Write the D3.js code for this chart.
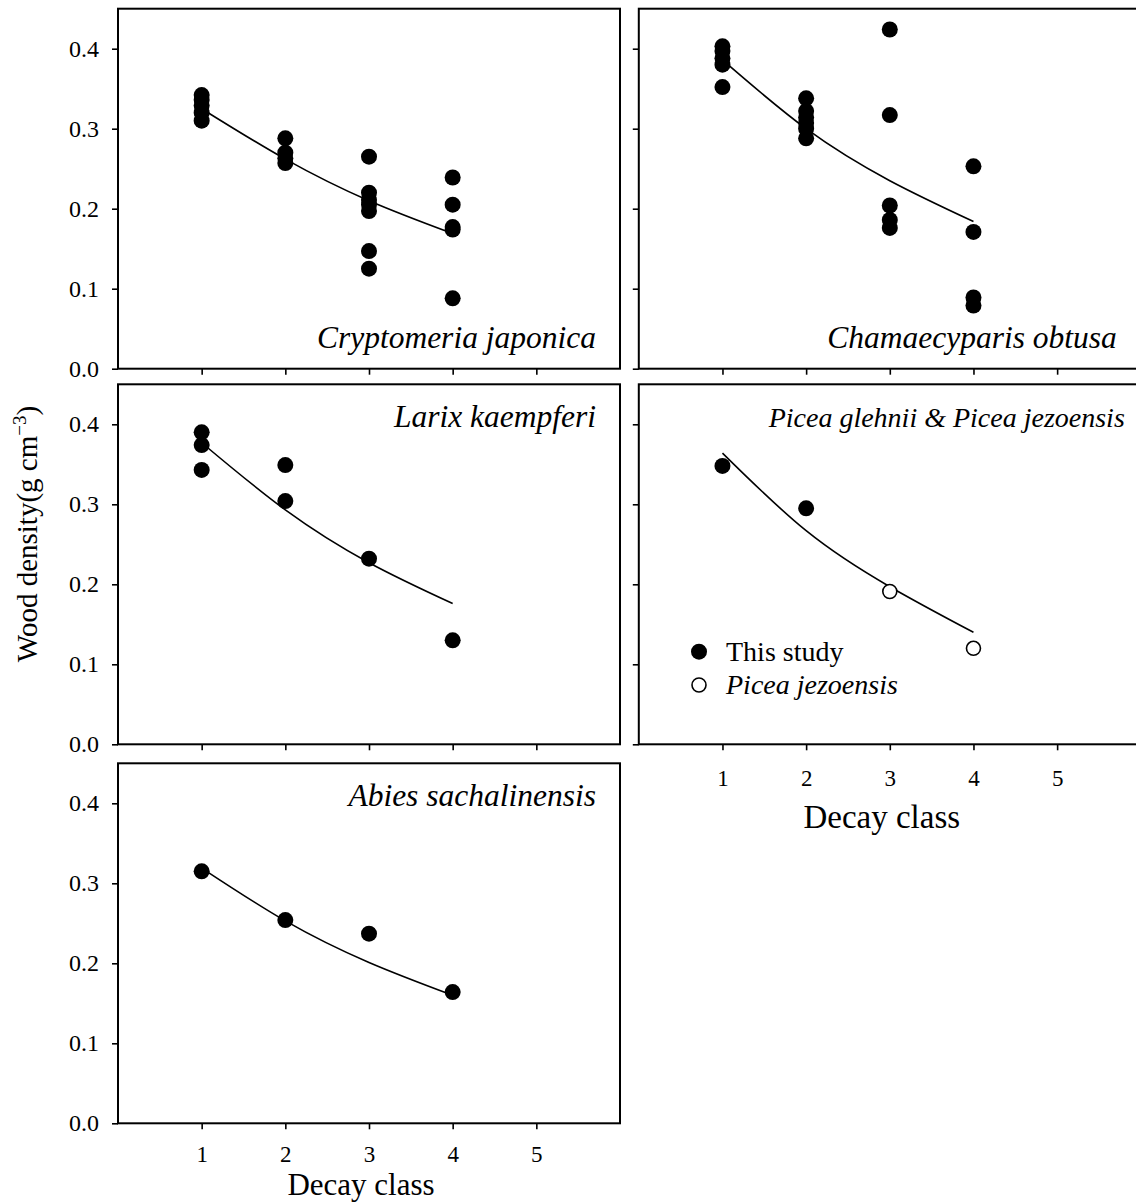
<!DOCTYPE html>
<html><head><meta charset="utf-8">
<script src="https://cdn.jsdelivr.net/npm/d3@7"></script>
<style>
body{margin:0;background:#fff}
svg{display:block}
text{font-family:"Liberation Serif","Times New Roman",serif;fill:#000}
</style>
</head><body>
<svg id="chart" width="1136" height="1202"></svg>
<script>
// ---------- data ----------
const xTickValues = [1, 2, 3, 4, 5];
const yTickValues = [0, 0.1, 0.2, 0.3, 0.4];
const yTickLabels = ["0.0", "0.1", "0.2", "0.3", "0.4"];
const xAxisTitle = "Decay class";
const yAxisTitle = "Wood density(g cm";
const speciesNames = ["Cryptomeria japonica", "Chamaecyparis obtusa", "Larix kaempferi",
                      "Picea glehnii & Picea jezoensis", "Abies sachalinensis"];
const legendLabels = ["This study", "Picea jezoensis"];

// observed wood density [decay class, g cm-3]
const cryptomeriaObs = [[1,0.342],[1,0.336],[1,0.329],[1,0.320],[1,0.310],
                        [2,0.288],[2,0.270],[2,0.263],[2,0.257],
                        [3,0.265],[3,0.220],[3,0.211],[3,0.205],[3,0.197],[3,0.147],[3,0.125],
                        [4,0.239],[4,0.205],[4,0.177],[4,0.174],[4,0.088]];
const chamaecyparisObs = [[1,0.403],[1,0.397],[1,0.388],[1,0.380],[1,0.352],
                          [2,0.338],[2,0.322],[2,0.314],[2,0.307],[2,0.300],[2,0.288],
                          [3,0.424],[3,0.317],[3,0.204],[3,0.186],[3,0.176],
                          [4,0.253],[4,0.171],[4,0.089],[4,0.079]];
const larixObs = [[1,0.390],[1,0.374],[1,0.343],[2,0.349],[2,0.304],[3,0.232],[4,0.130]];
const piceaObs = [[1,0.348],[2,0.295]];
const piceaJezoensisObs = [[3,0.191],[4,0.120]];
const abiesObs = [[1,0.315],[2,0.254],[3,0.237],[4,0.164]];

// fitted curves, read at decay classes 1..4
const fitClasses = [1, 2, 3, 4];
const cryptomeriaFit = [0.325, 0.262, 0.210, 0.169];
const chamaecyparisFit = [0.386, 0.300, 0.235, 0.184];
const larixFit = [0.377, 0.293, 0.227, 0.176];
const piceaFit = [0.364, 0.267, 0.197, 0.140];
const abiesFit = [0.319, 0.253, 0.201, 0.160];

// ---------- layout ----------
const colLeft = [118, 638.8];
const panelW = 502;
const rowBottom = [368.7, 744.3, 1123.3];
const panelH = 360;

const panels = [
  {name: speciesNames[0], obs: cryptomeriaObs, open: [], fit: cryptomeriaFit, col: 0, row: 0, labelTop: false, xLab: false, yLab: true},
  {name: speciesNames[1], obs: chamaecyparisObs, open: [], fit: chamaecyparisFit, col: 1, row: 0, labelTop: false, xLab: false, yLab: false},
  {name: speciesNames[2], obs: larixObs, open: [], fit: larixFit, col: 0, row: 1, labelTop: true, xLab: false, yLab: true},
  {name: speciesNames[3], obs: piceaObs, open: piceaJezoensisObs, fit: piceaFit, col: 1, row: 1, labelTop: true, xLab: true, yLab: false, legend: true,
   tickDy: 42, titleDy: 84, titleSize: 33, labelEnd: 16, labelSize: 28},
  {name: speciesNames[4], obs: abiesObs, open: [], fit: abiesFit, col: 0, row: 2, labelTop: true, xLab: true, yLab: true,
   tickDy: 39, titleDy: 71.7, titleSize: 31},
];

const svg = d3.select("#chart");
svg.append("rect").attr("width", 1136).attr("height", 1202).attr("fill", "#fff");

panels.forEach(p => {
  const x = d3.scaleLinear().domain([0, 6]).range([colLeft[p.col], colLeft[p.col] + panelW]);
  const y = d3.scaleLinear().domain([0, 0.45]).range([rowBottom[p.row], rowBottom[p.row] - panelH]);
  const g = svg.append("g");

  // y axis ticks
  const ya = g.append("g").attr("transform", `translate(${x(0)},0)`)
    .call(d3.axisLeft(y).tickValues(yTickValues).tickSize(6).tickSizeOuter(0)
      .tickFormat((d, i) => p.yLab ? yTickLabels[i] : ""));
  ya.select(".domain").remove();
  ya.selectAll("line").attr("stroke", "#000").attr("stroke-width", 1.6);
  ya.selectAll("text").attr("x", -19).attr("font-size", 24).attr("font-family", "Liberation Serif, serif");

  // x axis ticks
  const xa = g.append("g").attr("transform", `translate(0,${y(0)})`)
    .call(d3.axisBottom(x).tickValues(xTickValues).tickSize(6).tickSizeOuter(0)
      .tickFormat(d => p.xLab ? String(d) : ""));
  xa.select(".domain").remove();
  xa.selectAll("line").attr("stroke", "#000").attr("stroke-width", 1.6);
  xa.selectAll("text").attr("y", p.tickDy || 42).attr("dy", 0).attr("font-size", 23).attr("font-family", "Liberation Serif, serif");

  // frame
  g.append("rect")
    .attr("x", x(0)).attr("y", y(0.45))
    .attr("width", x(6) - x(0)).attr("height", y(0) - y(0.45))
    .attr("fill", "none").attr("stroke", "#000").attr("stroke-width", 2);

  // fitted curve
  const line = d3.line().x(d => x(d[0])).y(d => y(d[1])).curve(d3.curveNatural);
  g.append("path").datum(fitClasses.map((c, i) => [c, p.fit[i]]))
    .attr("d", line).attr("fill", "none").attr("stroke", "#000").attr("stroke-width", 1.6);

  // observations
  g.selectAll("circle.obs").data(p.obs).join("circle").attr("class", "obs")
    .attr("cx", d => x(d[0])).attr("cy", d => y(d[1])).attr("r", 8).attr("fill", "#000");
  g.selectAll("circle.open").data(p.open).join("circle").attr("class", "open")
    .attr("cx", d => x(d[0])).attr("cy", d => y(d[1])).attr("r", 7)
    .attr("fill", "#fff").attr("stroke", "#000").attr("stroke-width", 1.6);

  // species label
  g.append("text")
    .attr("x", x(6) - (p.labelEnd || 24))
    .attr("y", p.labelTop ? y(0.45) + 43 : y(0) - 21)
    .attr("text-anchor", "end").attr("font-style", "italic").attr("font-size", p.labelSize || 31.5)
    .text(p.name);

  if (p.xLab) {
    g.append("text").attr("x", x(3) - 8).attr("y", y(0) + p.titleDy)
      .attr("text-anchor", "middle").attr("font-size", p.titleSize).text(xAxisTitle);
  }

  if (p.legend) {
    const lg = g.append("g");
    const items = [{label: legendLabels[0], open: false, cy: 651.7},
                   {label: legendLabels[1], open: true, cy: 685}];
    items.forEach(it => {
      lg.append("circle").attr("cx", 699).attr("cy", it.cy).attr("r", it.open ? 7 : 8)
        .attr("fill", it.open ? "#fff" : "#000").attr("stroke", "#000").attr("stroke-width", it.open ? 1.6 : 0);
      lg.append("text").attr("x", 726).attr("y", it.cy + 9).attr("font-size", 28)
        .attr("font-style", it.open ? "italic" : "normal").text(it.label);
    });
  }
});

// y axis title
const yt = svg.append("text")
  .attr("transform", "translate(37,534) rotate(-90)")
  .attr("text-anchor", "middle").attr("font-size", 29);
yt.append("tspan").text(yAxisTitle);
yt.append("tspan").attr("font-size", 19).attr("dy", -11).text("\u22123");
yt.append("tspan").attr("dy", 11).text(")");
</script>
</body></html>
